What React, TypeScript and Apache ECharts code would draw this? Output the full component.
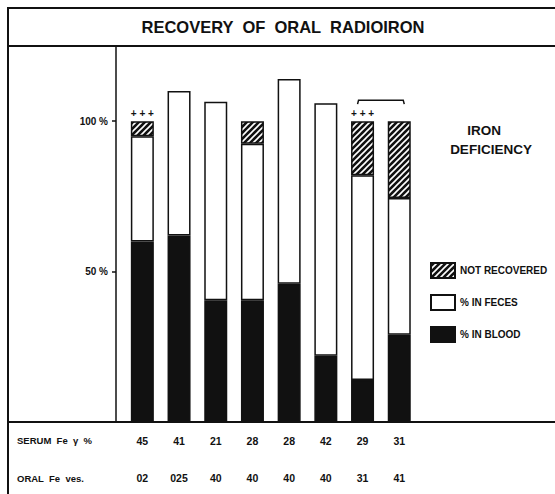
import React, { useEffect, useRef } from 'react';
import * as echarts from 'echarts';

const categories = ['1', '2', '3', '4', '5', '6', '7', '8'];
const bloodPct = [60, 62, 40.5, 40.5, 46, 22, 14, 29];
const fecesPct = [35, 48, 66, 52, 68, 84, 68, 45.5];
const notRecoveredPct = [5, null, null, 7.5, null, null, 18, 25.5];
const markFlags = ['+ + +', '', '', '', '', '', '+ + +', ''];
const serumFe = ['45', '41', '21', '28', '28', '42', '29', '31'];
const oralFe = ['02', '025', '40', '40', '40', '40', '31', '41'];
const ironDeficiencyBracket = [[6, 7, 107]];
const legendNames = ['NOT RECOVERED', '% IN FECES', '% IN BLOOD'];
const yTickLabels = [50, 100];

const FONT = '"Liberation Sans", Arial, sans-serif';

function makeHatch(): HTMLCanvasElement {
  const c = document.createElement('canvas');
  c.width = 6;
  c.height = 6;
  const ctx = c.getContext('2d')!;
  ctx.fillStyle = '#111';
  ctx.fillRect(0, 0, 6, 6);
  ctx.strokeStyle = '#fff';
  ctx.lineWidth = 1.6;
  ctx.beginPath();
  ctx.moveTo(-1, 7); ctx.lineTo(7, -1);
  ctx.moveTo(-4, 4); ctx.lineTo(4, -4);
  ctx.moveTo(2, 10); ctx.lineTo(10, 2);
  ctx.stroke();
  return c;
}

export default function App() {
  const ref = useRef<HTMLDivElement>(null);
  useEffect(() => {
    if (!ref.current) return;
    const chart = echarts.init(ref.current, undefined, { renderer: 'svg' });
    const hatch = makeHatch();
    const lineStyle = { stroke: '#111', lineWidth: 2 };
    const boldText = (text: string, x: number, y: number, size: number, align = 'left') => ({
      type: 'text', x, y, z: 100,
      style: { text, fontSize: size, fontWeight: 'bold', fontFamily: FONT, fill: '#111', align, verticalAlign: 'middle' },
    });
    chart.setOption({
      animation: false,
      backgroundColor: '#fff',
      grid: { left: 124, top: 46, width: 293.6, bottom: 72, containLabel: false },
      legend: {
        orient: 'vertical', left: 425, top: 257, itemWidth: 24, itemHeight: 15, itemGap: 15,
        icon: 'rect', selectedMode: false, data: legendNames,
        textStyle: { fontSize: 10, fontWeight: 'bold', fontFamily: FONT, color: '#111' },
      },
      xAxis: [
        { type: 'category', data: categories, axisLine: { show: false }, axisTick: { show: false }, axisLabel: { show: false } },
        {
          type: 'category', data: categories, position: 'bottom', axisLine: { show: false }, axisTick: { show: false },
          axisLabel: { margin: 13, fontSize: 10.5, fontWeight: 'bold', fontFamily: FONT, color: '#111', formatter: (_v: string, i: number) => serumFe[i] },
        },
        {
          type: 'category', data: categories, position: 'bottom', axisLine: { show: false }, axisTick: { show: false },
          axisLabel: { margin: 50, fontSize: 10.5, fontWeight: 'bold', fontFamily: FONT, color: '#111', formatter: (_v: string, i: number) => oralFe[i] },
        },
      ],
      yAxis: {
        type: 'value', min: 0, max: 125, interval: 50, offset: 8,
        axisLine: { show: true, lineStyle: { color: '#111', width: 1.5 } },
        axisTick: { show: true, length: 4, lineStyle: { color: '#111', width: 1.5 } },
        splitLine: { show: false },
        axisLabel: {
          margin: 8, fontSize: 10, fontWeight: 'bold', fontFamily: FONT, color: '#111',
          formatter: (v: number) => (yTickLabels.indexOf(v) >= 0 ? v + ' %' : ''),
        },
      },
      series: [
        {
          name: '% IN BLOOD', type: 'bar', stack: 'r', barWidth: 23, data: bloodPct,
          itemStyle: { color: '#111', borderColor: '#111', borderWidth: 1.5 },
        },
        {
          name: '% IN FECES', type: 'bar', stack: 'r', barWidth: 23, data: fecesPct,
          itemStyle: { color: '#fff', borderColor: '#111', borderWidth: 1.5 },
        },
        {
          name: 'NOT RECOVERED', type: 'bar', stack: 'r', barWidth: 23, data: notRecoveredPct,
          itemStyle: { color: { image: hatch, repeat: 'repeat' }, borderColor: '#111', borderWidth: 1.5 },
          label: {
            show: true, position: 'top', distance: 3, fontSize: 10, fontWeight: 'bold', fontFamily: FONT, color: '#111',
            formatter: (p: any) => markFlags[p.dataIndex],
          },
        },
        {
          type: 'custom', xAxisIndex: 0, yAxisIndex: 0, silent: true, z: 5,
          data: ironDeficiencyBracket,
          renderItem: (_params: any, api: any) => {
            const a = api.coord([api.value(0), api.value(2)]);
            const b = api.coord([api.value(1), api.value(2)]);
            const x1 = a[0] - 5, x2 = b[0] + 5, y = a[1];
            return {
              type: 'polyline',
              shape: { points: [[x1, y + 4], [x1 + 1, y], [x2 - 1, y], [x2, y + 4]] },
              style: { stroke: '#111', fill: null, lineWidth: 1.5 },
            };
          },
        },
      ],
      graphic: [
        { type: 'line', z: 100, shape: { x1: 8, y1: 8, x2: 8, y2: 494 }, style: lineStyle },
        { type: 'line', z: 100, shape: { x1: 7, y1: 8, x2: 555, y2: 8 }, style: lineStyle },
        { type: 'line', z: 100, shape: { x1: 8, y1: 46, x2: 555, y2: 46 }, style: lineStyle },
        { type: 'line', z: 100, shape: { x1: 8, y1: 422, x2: 555, y2: 422 }, style: lineStyle },
        boldText('RECOVERY  OF  ORAL  RADIOIRON', 283, 27, 16.5, 'center'),
        boldText('IRON', 484, 130, 13.5, 'center'),
        boldText('DEFICIENCY', 491, 149, 13.5, 'center'),
        boldText('SERUM  Fe  γ  %', 17, 440, 9.5),
        boldText('ORAL  Fe  ves.', 17, 478, 9.5),
      ],
    });
    return () => chart.dispose();
  }, []);
  return <div ref={ref} style={{ position: 'fixed', left: 0, top: 0, width: 555, height: 494 }} />;
}
